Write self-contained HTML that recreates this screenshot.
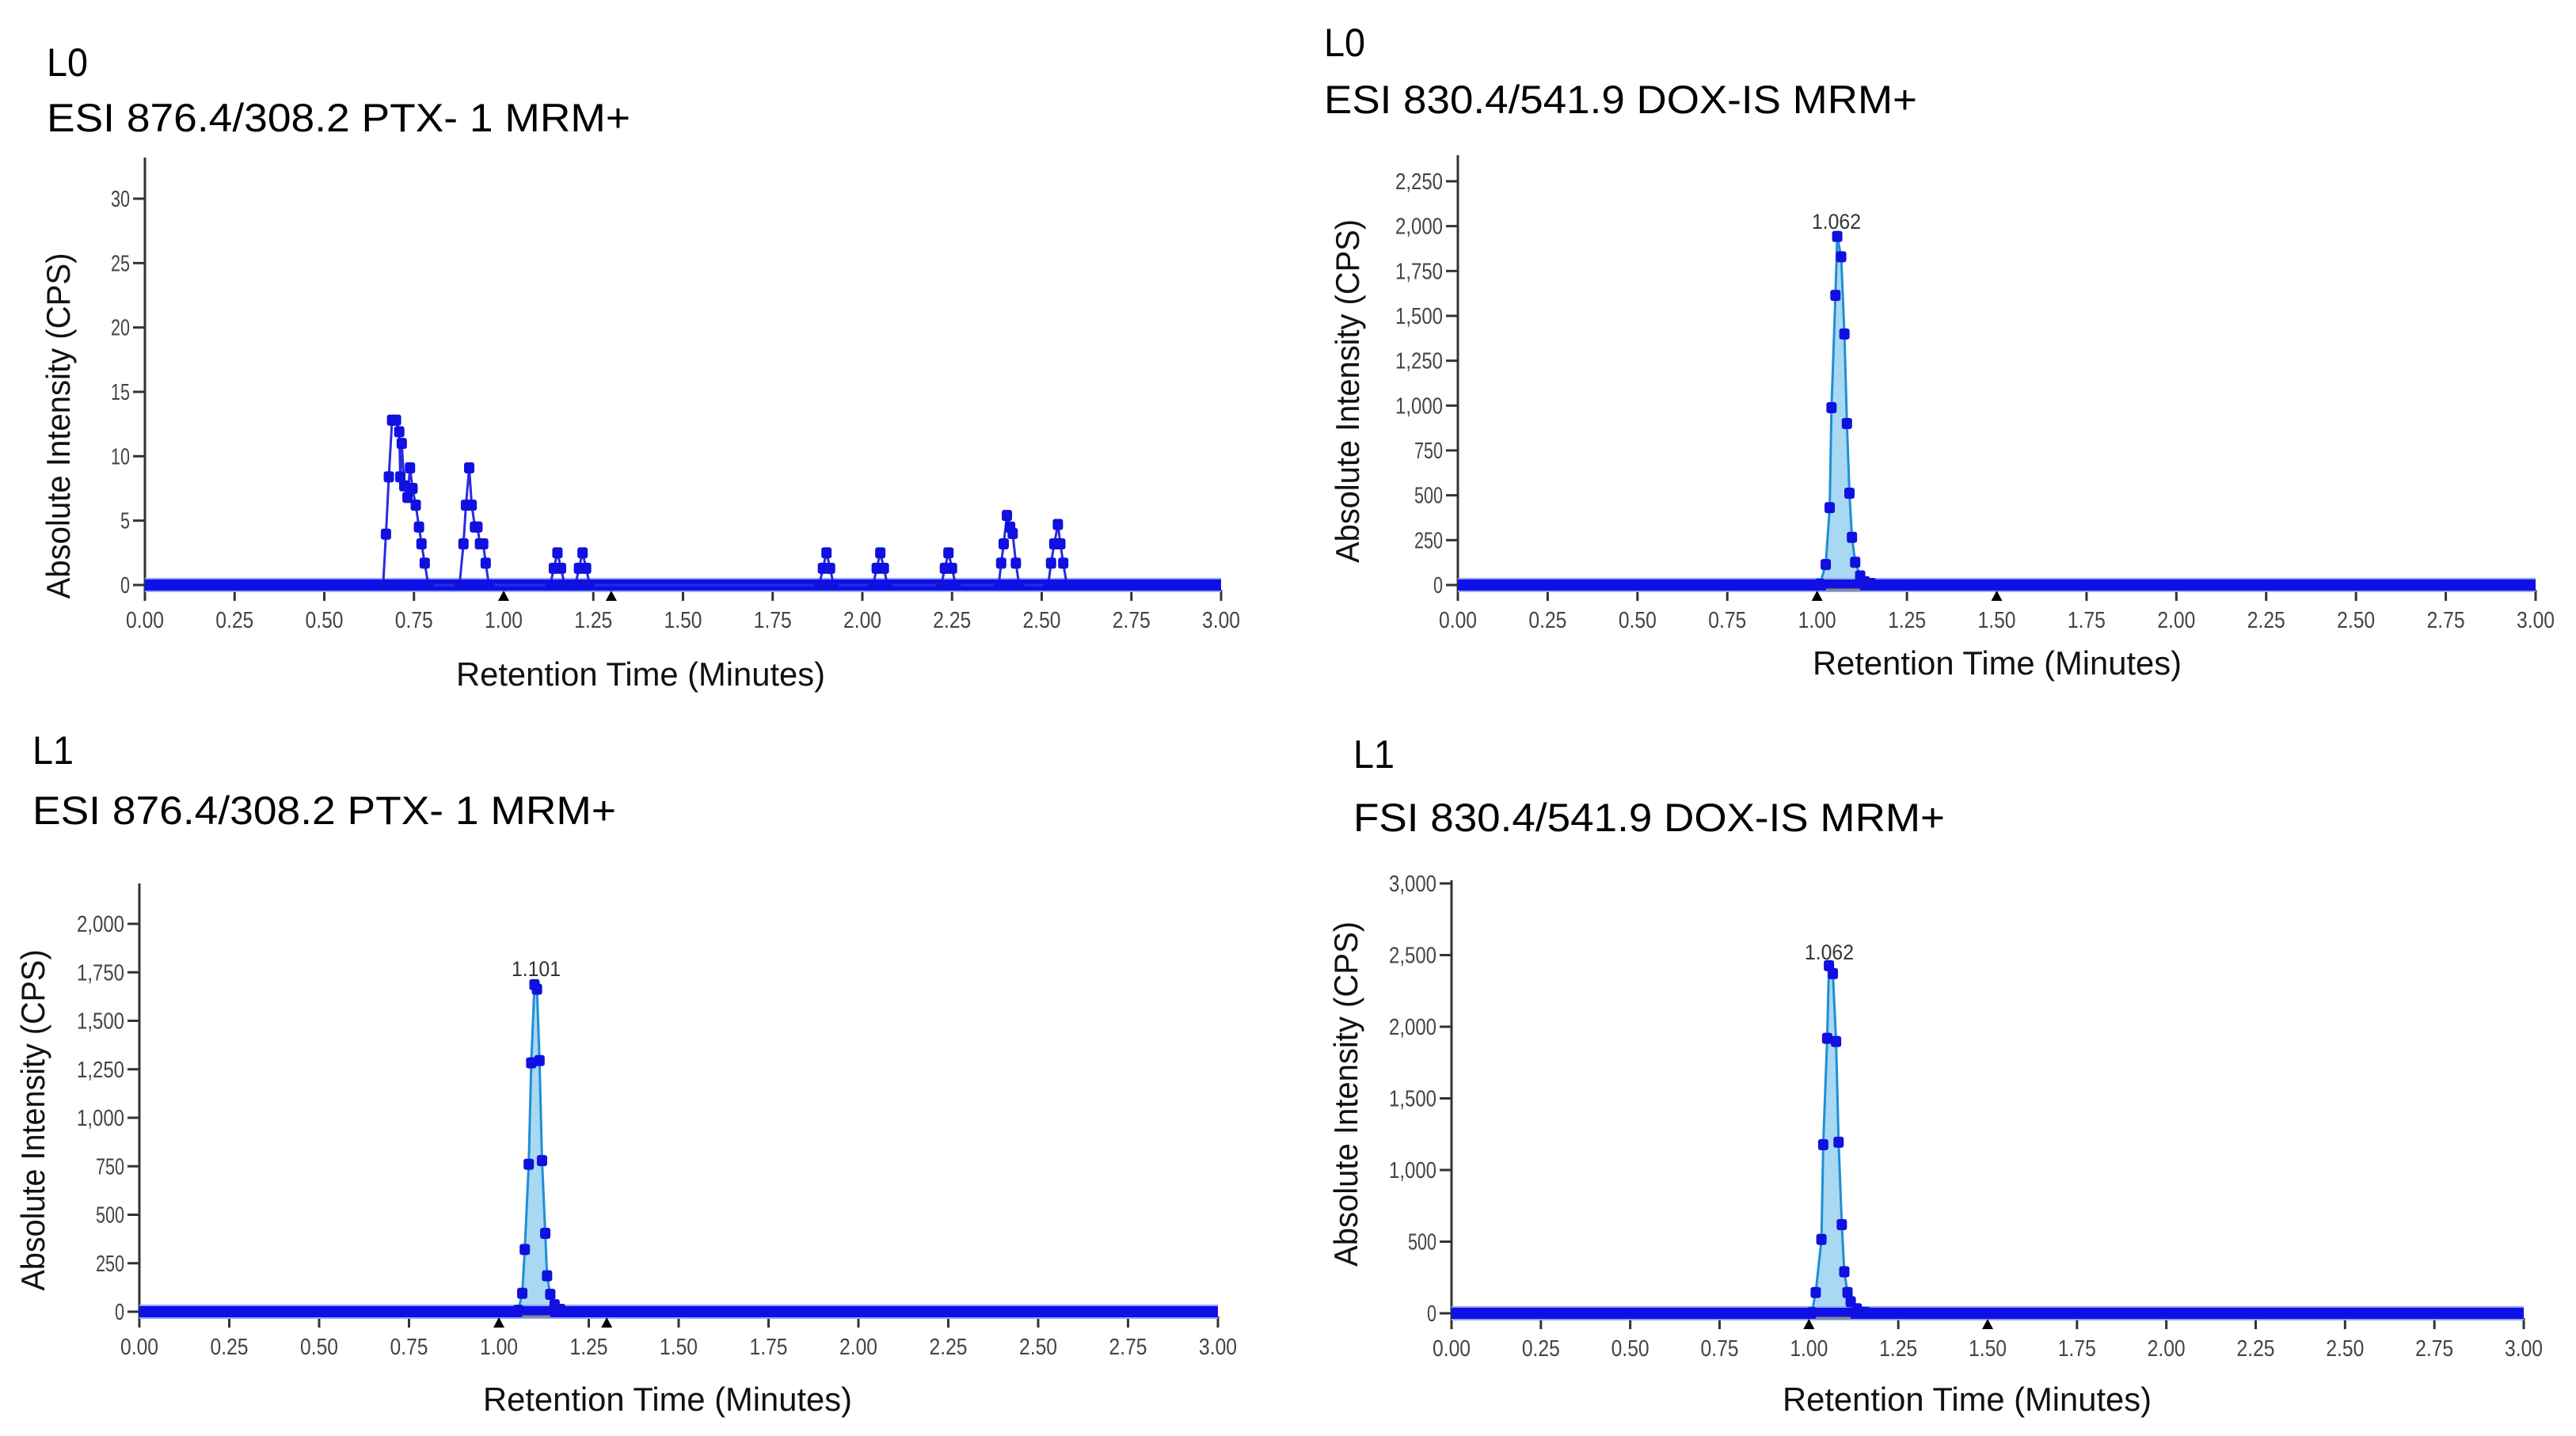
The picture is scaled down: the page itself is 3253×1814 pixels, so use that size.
<!DOCTYPE html>
<html><head><meta charset="utf-8"><style>
html,body{margin:0;padding:0;background:#fff;}
svg{display:block;}
text{font-family:"Liberation Sans",sans-serif;}
</style></head><body>
<svg id="root" width="3253" height="1814" viewBox="0 0 3253 1814" xmlns="http://www.w3.org/2000/svg">
<rect width="3253" height="1814" fill="#ffffff"/>
<g id="charts"></g>
</svg>
<script>
// ---- Data: chart A (L0 PTX) ----
const aTimes = [0.664,0.672,0.680,0.689,0.700,0.709,0.712,0.716,0.723,0.732,0.739,0.746,0.755,0.764,0.771,0.780,0.790,
 0.877,0.888,0.895,0.904,0.911,0.920,0.927,0.934,0.943,0.950,0.959,
 1.130,1.140,1.150,1.160,1.170,1.200,1.210,1.220,1.230,1.240,
 1.880,1.890,1.900,1.910,1.920,2.030,2.040,2.050,2.060,2.070,2.220,2.230,2.240,2.250,2.260,
 2.380,2.387,2.394,2.403,2.412,2.419,2.428,2.437,2.518,2.526,2.535,2.545,2.552,2.560,2.570];
const aValues = [0,3.95,8.4,12.8,12.8,11.9,8.4,11.0,7.7,6.8,9.1,7.5,6.2,4.5,3.2,1.7,0,
 0,3.2,6.2,9.1,6.2,4.5,4.5,3.2,3.2,1.7,0,
 0,1.3,2.5,1.3,0,0,1.3,2.5,1.3,0,
 0,1.3,2.5,1.3,0,0,1.3,2.5,1.3,0,0,1.3,2.5,1.3,0,
 0,1.7,3.2,5.4,4.5,4.0,1.7,0,0,1.7,3.2,4.7,3.2,1.7,0];
const aYTicks = [0,5,10,15,20,25,30];
const aYLabels = ["0","5","10","15","20","25","30"];
const aMarkers = [1.00,1.30];

// ---- Data: chart B (L0 DOX-IS) ----
const bTimes = [1.008,1.024,1.035,1.040,1.051,1.056,1.067,1.076,1.083,1.090,1.097,1.106,1.120,1.133,1.150];
const bValues = [5,114,431,988,1614,1943,1829,1399,900,512,266,127,51,18,8];
const bYTicks = [0,250,500,750,1000,1250,1500,1750,2000,2250];
const bYLabels = ["0","250","500","750","1,000","1,250","1,500","1,750","2,000","2,250"];
const bMarkers = [1.00,1.50];

// ---- Data: chart C (L1 PTX) ----
const cTimes = [1.054,1.065,1.072,1.083,1.090,1.099,1.106,1.113,1.120,1.129,1.134,1.143,1.155,1.171];
const cValues = [7,95,321,760,1283,1686,1663,1295,779,404,185,90,36,12];
const cYTicks = [0,250,500,750,1000,1250,1500,1750,2000];
const cYLabels = ["0","250","500","750","1,000","1,250","1,500","1,750","2,000"];
const cMarkers = [1.00,1.30];

// ---- Data: chart D (L1 DOX-IS) ----
const dTimes = [1.008,1.019,1.035,1.040,1.051,1.056,1.067,1.076,1.083,1.092,1.099,1.108,1.117,1.134,1.157];
const dValues = [5,145,516,1177,1919,2426,2371,1897,1194,619,290,145,81,32,6];
const dYTicks = [0,500,1000,1500,2000,2500,3000];
const dYLabels = ["0","500","1,000","1,500","2,000","2,500","3,000"];
const dMarkers = [1.00,1.50];

const xTicks = [0,0.25,0.5,0.75,1,1.25,1.5,1.75,2,2.25,2.5,2.75,3];
const xLabels = ["0.00","0.25","0.50","0.75","1.00","1.25","1.50","1.75","2.00","2.25","2.50","2.75","3.00"];

const NS = "http://www.w3.org/2000/svg";
const root = document.getElementById('charts');
function mk(tag, attrs, parent){
  const e = document.createElementNS(NS, tag);
  for (const k in attrs) e.setAttribute(k, attrs[k]);
  (parent||root).appendChild(e);
  return e;
}

function drawChart(cfg, times, values, yTicks, yLabels, markers){
  const g = mk('g', {});
  
  
  const xs = t => cfg.x0 + (cfg.x3 - cfg.x0) * t / 3;
  const ys = v => cfg.y0 - (cfg.y0 - cfg.yTop) * v / cfg.yMax;

  let t1 = mk('text', {x: cfg.tx, y: cfg.l1y, 'font-size': 50, fill: '#000', textLength: 52, lengthAdjust: 'spacingAndGlyphs'}, g);
  t1.textContent = cfg.level;
  
  
  let t2 = mk('text', {x: cfg.tx, y: cfg.l2y, 'font-size': 50, fill: '#000', textLength: cfg.tw, lengthAdjust: 'spacingAndGlyphs'}, g);
  t2.textContent = cfg.title;
  
  

  const ax = mk('line', {x1: cfg.x0, y1: cfg.axTop, x2: cfg.x0, y2: cfg.y0 + 6, stroke: '#333', 'stroke-width': 3}, g);
  
  
  yTicks.forEach((v, i) => {
    const y = ys(v);
    const tk = mk('line', {x1: cfg.x0 - 15, y1: y, x2: cfg.x0, y2: y, stroke: '#333', 'stroke-width': 3}, g);
    
    
    const lb = mk('text', {x: cfg.x0 - 19, y: y + 10, 'font-size': 29, fill: '#444', 'text-anchor': 'end', textLength: yLabels[i].length * 12, lengthAdjust: 'spacingAndGlyphs'}, g);
    lb.textContent = yLabels[i];
    
    
  });
  xTicks.forEach((t, i) => {
    const x = xs(t);
    const tk = mk('line', {x1: x, y1: cfg.y0 + 6, x2: x, y2: cfg.y0 + 20, stroke: '#333', 'stroke-width': 3}, g);
    
    
    const lb = mk('text', {x: x, y: cfg.y0 + 54, 'font-size': 29, fill: '#444', 'text-anchor': 'middle', textLength: 48, lengthAdjust: 'spacingAndGlyphs'}, g);
    lb.textContent = xLabels[i];
    
    
  });
  const xt = mk('text', {x: cfg.xtx, y: cfg.xty, 'font-size': 42, fill: '#111', 'text-anchor': 'middle', textLength: 466, lengthAdjust: 'spacingAndGlyphs'}, g);
  xt.textContent = 'Retention Time (Minutes)';
  
  
  const yt = mk('text', {x: 0, y: 0, 'font-size': 42, fill: '#111', 'text-anchor': 'middle', textLength: cfg.ytl, lengthAdjust: 'spacingAndGlyphs', transform: `translate(${cfg.ytx},${cfg.yty}) rotate(-90)`}, g);
  yt.textContent = 'Absolute Intensity (CPS)';
  
  

  if (cfg.fill) {
    let d = `M${xs(times[0])},${ys(0)}`;
    times.forEach((t, i) => { d += ` L${xs(t)},${ys(values[i])}`; });
    d += ` L${xs(times[times.length-1])},${ys(0)} Z`;
    const f = mk('path', {d: d, fill: '#a9d8f2', stroke: 'none'}, g);
    
    
  }
  const bl = mk('line', {x1: xs(0), y1: ys(0), x2: xs(3), y2: ys(0), stroke: '#8fa8f5', 'stroke-width': 18}, g);
  
  
  const bl2 = mk('line', {x1: xs(0), y1: ys(0), x2: xs(3), y2: ys(0), stroke: '#1010e6', 'stroke-width': 14}, g);
  
  
  if (cfg.fill) {
    const gl = mk('line', {x1: xs(times[1]), y1: ys(0)+6, x2: xs(times[times.length-3]), y2: ys(0)+6, stroke: '#888', 'stroke-width': 3}, g);
    
    
  }
  const pts = times.map((t, i) => `${xs(t)},${ys(values[i])}`).join(' ');
  const ln = mk('polyline', {points: pts, fill: 'none', stroke: cfg.lineColor, 'stroke-width': 3}, g);
  
  
  times.forEach((t, i) => {
    const p = mk('rect', {x: xs(t) - 6.5, y: ys(values[i]) - 7, width: 13, height: 14, rx: 3, fill: '#1010e0'}, g);
    
    
  });
  markers.forEach(t => {
    const x = xs(t), y = ys(0);
    const tr = mk('polygon', {points: `${x-7},${y+20} ${x+7},${y+20} ${x},${y+7}`, fill: '#000'}, g);
    
    
  });
  if (cfg.peakLabel) {
    const pl = mk('text', {x: cfg.plx, y: cfg.ply, 'font-size': 27, fill: '#333', 'text-anchor': 'middle', textLength: 62, lengthAdjust: 'spacingAndGlyphs'}, g);
    pl.textContent = cfg.peakLabel;
    
    
  }
}

drawChart({name:'chart-l0-ptx', level:'L0', title:'ESI 876.4/308.2 PTX- 1 MRM+', tx:59, l1y:96, l2y:166, tw:737,
  x0:183, x3:1542, y0:739, yTop:251, yMax:30, axTop:199, xtx:809, xty:866, ytx:88, yty:538, ytl:437,
  fill:false, lineColor:'#2a2ae0'}, aTimes, aValues, aYTicks, aYLabels, aMarkers);

drawChart({name:'chart-l0-dox', level:'L0', title:'ESI 830.4/541.9 DOX-IS MRM+', tx:1672, l1y:71, l2y:143, tw:749,
  x0:1841, x3:3202, y0:739, yTop:229, yMax:2250, axTop:196, xtx:2522, xty:852, ytx:1716, yty:494, ytl:434,
  fill:true, lineColor:'#1e8fd6', peakLabel:'1.062', plx:2319, ply:289}, bTimes, bValues, bYTicks, bYLabels, bMarkers);

drawChart({name:'chart-l1-ptx', level:'L1', title:'ESI 876.4/308.2 PTX- 1 MRM+', tx:41, l1y:965, l2y:1041, tw:737,
  x0:176, x3:1538, y0:1657, yTop:1167, yMax:2000, axTop:1116, xtx:843, xty:1782, ytx:56, yty:1415, ytl:431,
  fill:true, lineColor:'#1e8fd6', peakLabel:'1.101', plx:677, ply:1233}, cTimes, cValues, cYTicks, cYLabels, cMarkers);

drawChart({name:'chart-l1-dox', level:'L1', title:'FSI 830.4/541.9 DOX-IS MRM+', tx:1709, l1y:970, l2y:1050, tw:747,
  x0:1833, x3:3187, y0:1659, yTop:1116, yMax:3000, axTop:1112, xtx:2484, xty:1782, ytx:1714, yty:1382, ytl:436,
  fill:true, lineColor:'#1e8fd6', peakLabel:'1.062', plx:2310, ply:1212}, dTimes, dValues, dYTicks, dYLabels, dMarkers);
</script>
</body></html>
